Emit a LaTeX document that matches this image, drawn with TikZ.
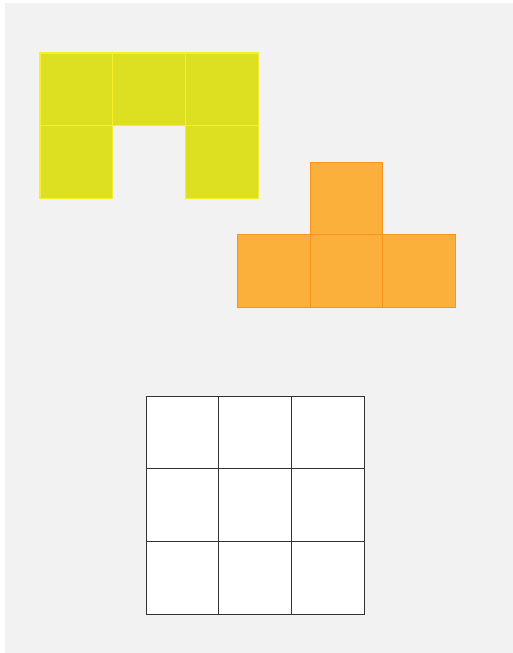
\documentclass[tikz,border=0pt]{standalone}
\definecolor{bggray}{HTML}{F2F2F2}
\definecolor{yfill}{HTML}{DCE021}
\definecolor{yline}{HTML}{F6EE2A}
\definecolor{ofill}{HTML}{FBB03B}
\definecolor{oline}{HTML}{F7931E}
\definecolor{gline}{HTML}{333333}
\begin{document}
\begin{tikzpicture}[x=1pt,y=-1pt,
  cell/.style={rectangle,anchor=north west,minimum width=72.7pt,minimum height=72.7pt,inner sep=0pt,outer sep=0pt},
  ycell/.style={cell,fill=yfill,draw=yline,line width=1.2pt},
  ocell/.style={cell,fill=ofill,draw=oline,line width=1pt},
  gcell/.style={cell,fill=white,draw=gline,line width=0.9pt}]
\useasboundingbox (0,0) rectangle (513,653);
\fill[white] (0,0) rectangle (513,653);
\fill[bggray] (5,3) rectangle (513,653);
% yellow shape
\node[ycell] (y1) at (40,53) {};
\node[ycell] (y2) at (112.7,53) {};
\node[ycell] (y3) at (185.4,53) {};
\node[ycell] (y4) at (40,125.7) {};
\node[ycell] (y5) at (185.4,125.7) {};
% orange shape
\node[ocell] (o1) at (310,162) {};
\node[ocell] (o2) at (237.3,234.7) {};
\node[ocell] (o3) at (310,234.7) {};
\node[ocell] (o4) at (382.7,234.7) {};
% grid
\foreach \i in {0,1,2}{
  \foreach \j in {0,1,2}{
    \node[gcell] (g\i\j) at ({146+72.7*\j},{396+72.7*\i}) {};
  }
}
\end{tikzpicture}
\end{document}
